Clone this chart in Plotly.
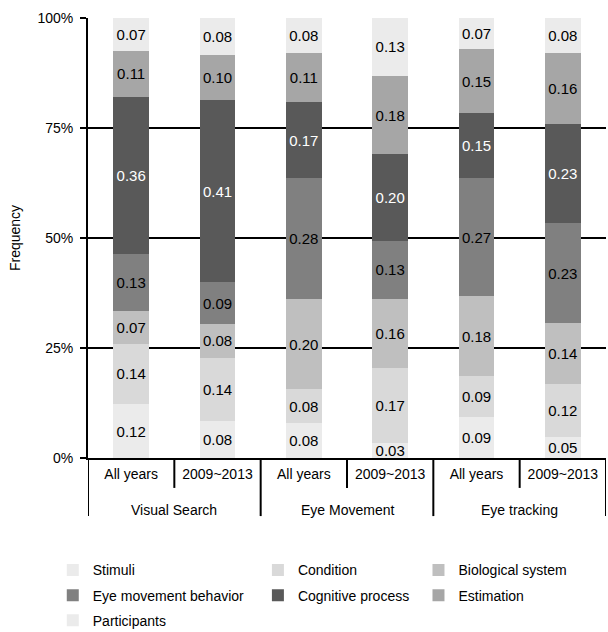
import plotly.graph_objects as go

groups = ["Visual Search", "Visual Search", "Eye Movement", "Eye Movement", "Eye tracking", "Eye tracking"]
periods = ["All years", "2009~2013", "All years", "2009~2013", "All years", "2009~2013"]

series_names = ["Stimuli", "Condition", "Biological system", "Eye movement behavior",
                "Cognitive process", "Estimation", "Participants"]

stimuli = [0.122, 0.084, 0.079, 0.034, 0.094, 0.048]
condition = [0.138, 0.144, 0.078, 0.171, 0.092, 0.120]
biological = [0.073, 0.077, 0.204, 0.156, 0.182, 0.138]
eye_movement = [0.131, 0.094, 0.276, 0.133, 0.268, 0.228]
cognitive = [0.356, 0.414, 0.171, 0.196, 0.147, 0.226]
estimation = [0.106, 0.104, 0.112, 0.179, 0.146, 0.160]
participants = [0.074, 0.083, 0.080, 0.131, 0.071, 0.080]

y_tick_values = [0, 0.25, 0.5, 0.75, 1.0]
y_tick_labels = ["0%", "25%", "50%", "75%", "100%"]

series_values = [stimuli, condition, biological, eye_movement, cognitive, estimation, participants]
colors = ["#ebebeb", "#d9d9d9", "#bfbfbf", "#808080", "#595959", "#a6a6a6", "#ebebeb"]
text_colors = ["#000000", "#000000", "#000000", "#000000", "#ffffff", "#000000", "#000000"]
legend_ids = ["legend", "legend2", "legend3", "legend", "legend2", "legend3", "legend"]

FONT = "Liberation Sans, Arial, sans-serif"
xs = list(range(len(periods)))

fig = go.Figure()
for name, vals, col, tcol, lg in zip(series_names, series_values, colors, text_colors, legend_ids):
    fig.add_trace(go.Bar(
        x=xs, y=vals, name=name,
        marker=dict(color=col, line=dict(width=0)),
        texttemplate="%{y:.2f}", textposition="inside", insidetextanchor="middle",
        textangle=0, constraintext="none",
        textfont=dict(family=FONT, size=15, color=tcol),
        legend=lg, legendgroup=name,
    ))

# category dividers derived from the category lists
shapes = []
for i in range(len(periods) + 1):
    b = i - 0.5
    is_group_edge = (i == 0 or i == len(periods) or groups[i] != groups[i - 1])
    shapes.append(dict(type="line", xref="x", yref="paper", x0=b, x1=b,
                       y0=0, y1=-0.132 if is_group_edge else -0.068,
                       line=dict(color="#000000", width=2), layer="above"))

annotations = []
seen = []
for g in groups:
    if g not in seen:
        seen.append(g)
for g in seen:
    idx = [i for i, gg in enumerate(groups) if gg == g]
    annotations.append(dict(text=g, xref="x", yref="paper", x=sum(idx) / len(idx), y=-0.118,
                            showarrow=False, yanchor="middle", xanchor="center",
                            font=dict(family=FONT, size=14, color="#000000")))

legend_common = dict(font=dict(family=FONT, size=14, color="#000000"),
                     orientation="v", yanchor="top", xanchor="left",
                     tracegroupgap=4, itemwidth=30, bgcolor="rgba(0,0,0,0)")

fig.update_layout(
    barmode="stack",
    bargap=0.59,
    width=608, height=632,
    margin=dict(l=88, r=2, t=18, b=174, autoexpand=False),
    paper_bgcolor="white", plot_bgcolor="white",
    font=dict(family=FONT, size=14, color="#000000"),
    legend=dict(x=-0.068, y=-0.219, **legend_common),
    legend2=dict(x=0.328, y=-0.219, **legend_common),
    legend3=dict(x=0.638, y=-0.219, **legend_common),
    shapes=shapes,
    annotations=annotations,
    yaxis=dict(
        range=[0, 1], tickvals=y_tick_values, ticktext=y_tick_labels,
        showgrid=True, gridcolor="#000000", gridwidth=2,
        showline=True, linecolor="#000000", linewidth=2,
        ticks="outside", ticklen=6, tickwidth=2, tickcolor="#000000",
        ticklabelstandoff=4,
        tickfont=dict(family=FONT, size=14, color="#000000"),
        title=dict(text="Frequency", font=dict(family=FONT, size=14), standoff=13),
        zeroline=False,
    ),
    xaxis=dict(
        range=[-0.5, len(periods) - 0.5],
        tickvals=xs, ticktext=periods,
        showline=True, linecolor="#000000", linewidth=2,
        ticks="", ticklabelstandoff=2,
        tickfont=dict(family=FONT, size=14, color="#000000"),
        showgrid=False, zeroline=False,
    ),
)

fig.write_html("out.html", config={"displayModeBar": False},
               post_script="document.body.style.margin='0';")
